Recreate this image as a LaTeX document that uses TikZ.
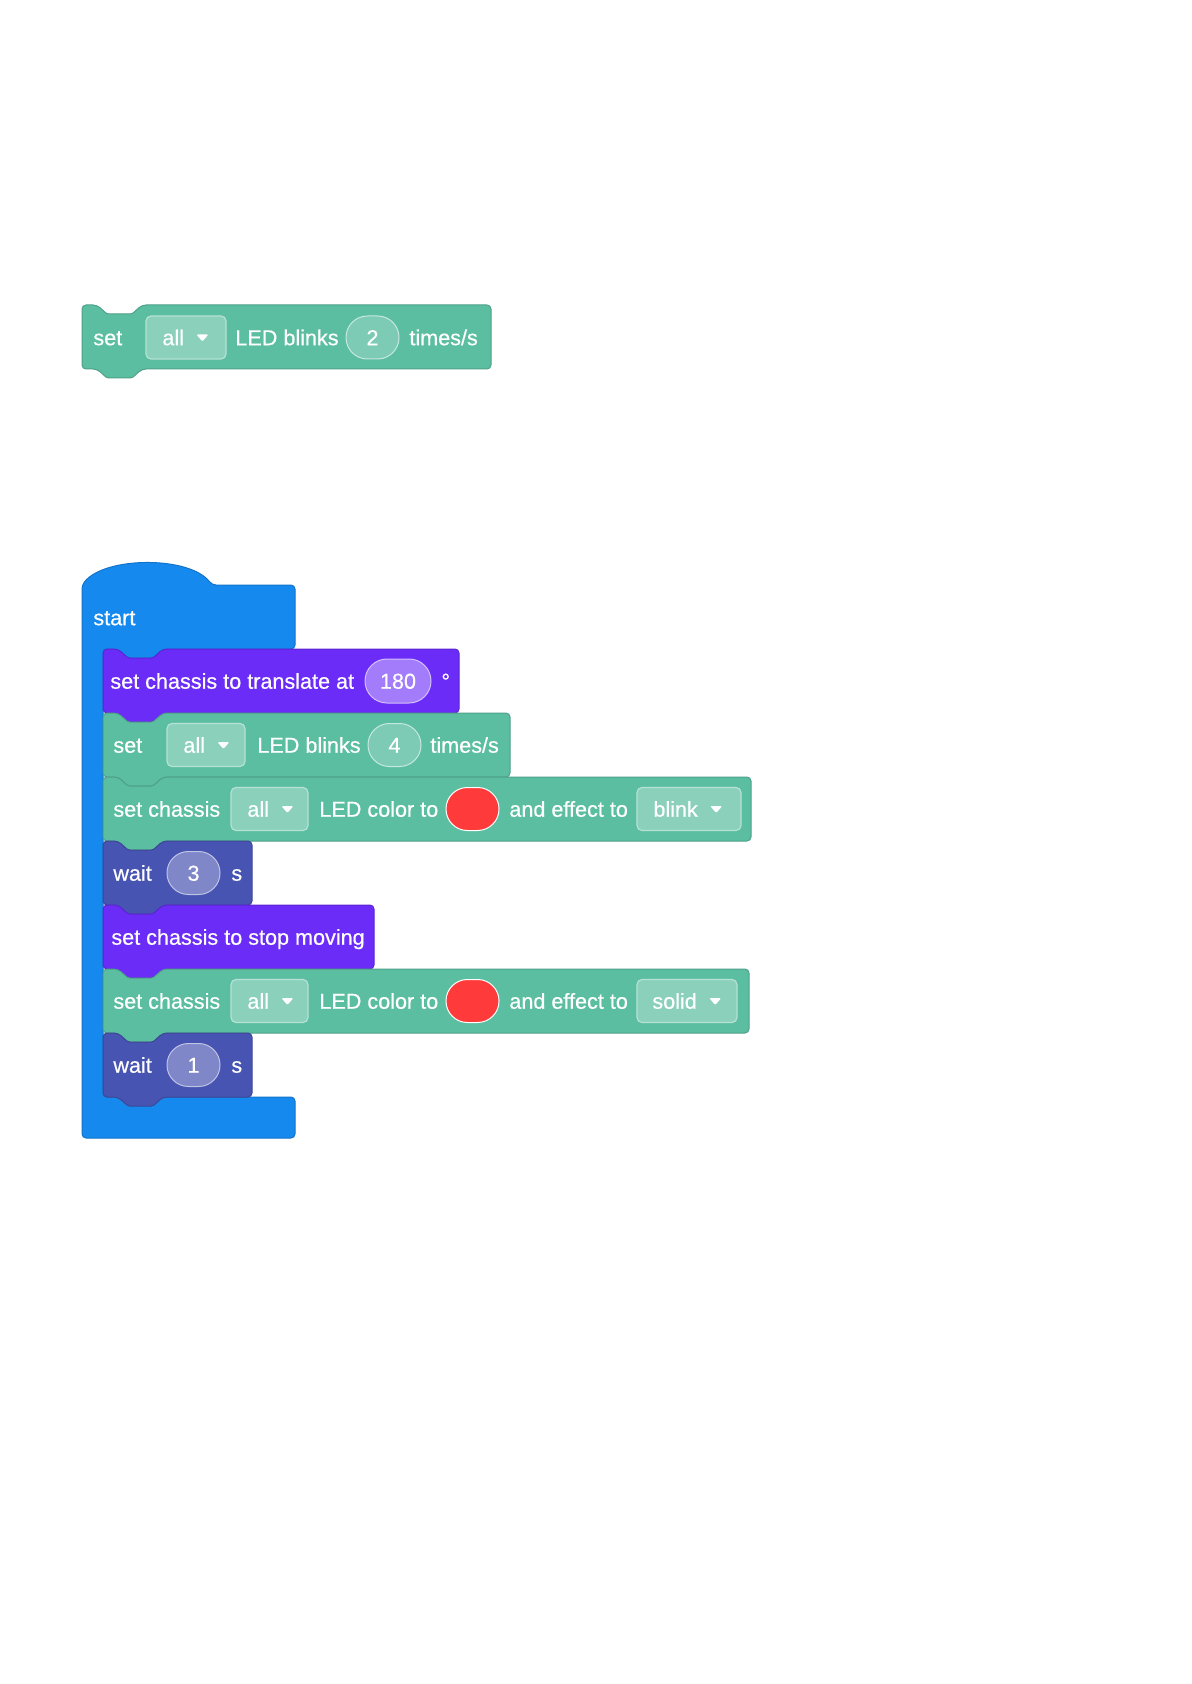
\documentclass[tikz,border=0pt]{standalone}
\usepackage{fontspec}
\setmainfont{Liberation Sans}
\newfontfamily\blockfam{Liberation Sans}[FakeBold=0.5]
\usetikzlibrary{positioning}

\definecolor{ledgreen}{RGB}{92,190,161}
\definecolor{movepurple}{RGB}{107,44,248}
\definecolor{waitindigo}{RGB}{72,84,178}
\definecolor{startblue}{RGB}{22,137,238}
\definecolor{ledred}{RGB}{255,58,58}

\newcommand\blockfont{\blockfam\fontsize{10.8pt}{13pt}\selectfont}

% stack block: left, top, right, fill, border (notch on top, tab below)
\newcommand\stackblock[5]{%
  \path[fill=#4, draw=#5, line width=0.5pt, rounded corners=2pt]
    (#1,#2) -- (#1+15,#2) [rounded corners=0.8pt] -- (#1+25,#2+9) -- (#1+50,#2+9)
    [rounded corners=2pt] -- (#1+60,#2)
    -- (#3,#2) -- (#3,#2+64) -- (#1+60,#2+64) [rounded corners=0.8pt] -- (#1+50,#2+73)
    -- (#1+25,#2+73) [rounded corners=2pt] -- (#1+15,#2+64) -- (#1,#2+64) -- cycle;}

% small arrow of a dropdown, after its text node
\newcommand\droparrow[1]{%
  \fill[white, rounded corners=0.6pt] ([xshift=6pt,yshift=1.5pt]#1.east) -- ++(12,0) -- ++(-6,7) -- cycle;}

\tikzset{
  blocktext/.style={text=white, font=\blockfont, inner sep=0pt, anchor=west, text height=7.7pt, text depth=0pt},
  dropbox/.style={rectangle, rounded corners=2.5pt, minimum height=21.5pt, line width=0.6pt, inner sep=0pt,
    fill=ledgreen!72!white, draw=ledgreen!45!white},
  valoval/.style={rectangle, rounded corners=10.7pt, minimum height=21.5pt, minimum width=26.5pt, line width=0.5pt,
    inner sep=0pt, text=white, font=\blockfont, text height=7.7pt, text depth=0pt},
  greenoval/.style={valoval, fill=ledgreen!80!white, draw=ledgreen!35!white},
  purpleoval/.style={valoval, fill=movepurple!62!white, draw=movepurple!30!white},
  waitoval/.style={valoval, fill=waitindigo!70!white, draw=waitindigo!35!white},
  colorswatch/.style={valoval, fill=ledred, draw=white}
}

\begin{document}
\begin{tikzpicture}[x=0.5pt, y=-0.5pt]
  \fill[white] (0,0) rectangle (1191,1684);

  % single block
  \stackblock{82}{305}{491}{ledgreen}{ledgreen!85!black}
  \node[blocktext] (set0) at (93,337.5) {set};
  \node[dropbox, minimum width=40pt] (dd0) at (186,337.5) {};
  \node[blocktext] (dd0t) at (162,337.5) {all};
  \droparrow{dd0t}
  \node[blocktext] (blink0) at (235,337.5) {LED blinks};
  \node[greenoval] (rate0) at (372.5,337.5) {2};
  \node[blocktext] (unit0) at (409,337.5) {times/s};

  % start block
  \path[fill=startblue, draw=startblue!85!black, line width=0.5pt, rounded corners=2pt]
    (82,585) .. controls (105,556) and (190,556) .. (212,585) -- (295,585) -- (295,649)
    -- (163,649) [rounded corners=0.8pt] -- (153,658) -- (128,658) [rounded corners=2pt] -- (118,649)
    -- (103,649) -- (103,1097) -- (295,1097) -- (295,1138) -- (82,1138) -- cycle;
  \node[blocktext] (start) at (93,617.5) {start};

  % translate
  \stackblock{103}{649}{459}{movepurple}{movepurple!85!black}
  \node[blocktext] (move) at (110,681) {set chassis to translate at};
  \node[purpleoval, minimum width=33pt, minimum height=22pt, rounded corners=11pt] (angle) at (398,681) {180};
  \node[blocktext] (deg) at (441,681) {°};

  % blinks
  \stackblock{103}{713}{510}{ledgreen}{ledgreen!85!black}
  \node[blocktext] (set1) at (113,745) {set};
  \node[dropbox, minimum width=39pt] (dd1) at (206,745) {};
  \node[blocktext] (dd1t) at (183,745) {all};
  \droparrow{dd1t}
  \node[blocktext] (blink1) at (257,745) {LED blinks};
  \node[greenoval] (rate1) at (394.5,745) {4};
  \node[blocktext] (unit1) at (430,745) {times/s};

  % color + blink
  \stackblock{103}{777}{751}{ledgreen}{ledgreen!85!black}
  \node[blocktext] (chassis2) at (113,809) {set chassis};
  \node[dropbox, minimum width=38.5pt] (dd2) at (269.5,809) {};
  \node[blocktext] (dd2t) at (247,809) {all};
  \droparrow{dd2t}
  \node[blocktext] (color2) at (319,809) {LED color to};
  \node[colorswatch] (red2) at (472.5,809) {};
  \node[blocktext] (effect2) at (509,809) {and effect to};
  \node[dropbox, minimum width=52pt] (fx2) at (689,809) {};
  \node[blocktext] (fx2t) at (653,809) {blink};
  \droparrow{fx2t}

  % wait 3
  \stackblock{103}{841}{252}{waitindigo}{waitindigo!85!black}
  \node[blocktext] (wait3) at (113,873) {wait};
  \node[waitoval] (sec3) at (193.5,873) {3};
  \node[blocktext] (unit3) at (231,873) {s};

  % stop
  \stackblock{103}{905}{374}{movepurple}{movepurple!85!black}
  \node[blocktext] (stop) at (111,937) {set chassis to stop moving};

  % color + solid
  \stackblock{103}{969}{749}{ledgreen}{ledgreen!85!black}
  \node[blocktext] (chassis5) at (113,1001) {set chassis};
  \node[dropbox, minimum width=38.5pt] (dd5) at (269.5,1001) {};
  \node[blocktext] (dd5t) at (247,1001) {all};
  \droparrow{dd5t}
  \node[blocktext] (color5) at (319,1001) {LED color to};
  \node[colorswatch] (red5) at (472.5,1001) {};
  \node[blocktext] (effect5) at (509,1001) {and effect to};
  \node[dropbox, minimum width=50pt] (fx5) at (687,1001) {};
  \node[blocktext] (fx5t) at (652,1001) {solid};
  \droparrow{fx5t}

  % wait 1
  \stackblock{103}{1033}{252}{waitindigo}{waitindigo!85!black}
  \node[blocktext] (wait1) at (113,1065) {wait};
  \node[waitoval] (sec1) at (193.5,1065) {1};
  \node[blocktext] (unit1s) at (231,1065) {s};
\end{tikzpicture}
\end{document}
